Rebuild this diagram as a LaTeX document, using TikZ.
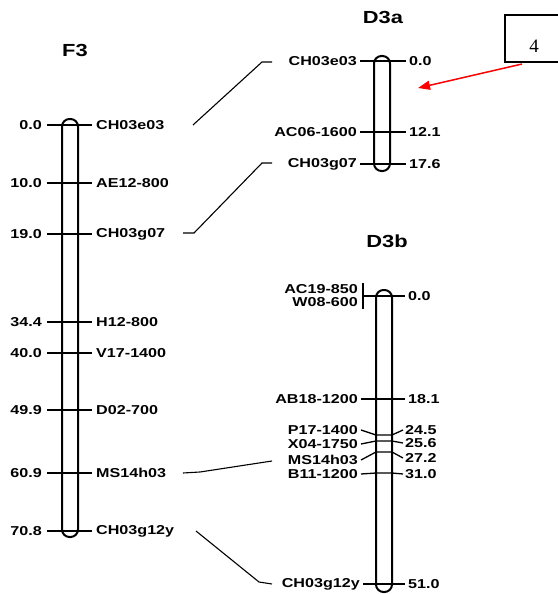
\documentclass[tikz,border=0pt]{standalone}
\usepackage{fontspec}
\newfontfamily\mapfont{Liberation Sans}[FakeStretch=1.25]
\newfontfamily\boxfont{Liberation Serif}
\usetikzlibrary{arrows.meta}
\begin{document}
\begin{tikzpicture}[x=1pt,y=-1pt,
  lbl/.style={font=\mapfont\bfseries\fontsize{12.9}{14}\selectfont, inner sep=0pt},
  ttl/.style={font=\mapfont\bfseries\fontsize{17.5}{19}\selectfont, inner sep=0pt},
  chrom/.style={draw=black, line width=2pt, rounded corners=7.5pt, fill=white},
  tickln/.style={draw=black, line width=1.3pt},
  link/.style={draw=black, line width=1.1pt},
]
\useasboundingbox (0,0) rectangle (557,594);
\fill[white] (0,0) rectangle (557,594);

% ---------- titles
\node[ttl] (tF3) at (75,50) {F3};
\node[ttl] (tD3a) at (383,17) {D3a};
\node[ttl] (tD3b) at (387,241) {D3b};

% ---------- chromosome bars
\draw[chrom] (62,119) rectangle (78,537);
\node[inner sep=0pt] (barF3) at (70,328) {};
\draw[chrom] (374,56) rectangle (390,171);
\node[inner sep=0pt] (barD3a) at (382,113) {};
\draw[chrom] (376,290) rectangle (392,592);
\node[inner sep=0pt] (barD3b) at (384,441) {};

% ---------- F3 markers
\foreach \y/\p/\m/\n in {125/0.0/CH03e03/a, 183/10.0/AE12-800/b, 234/19.0/CH03g07/c,
  322/34.4/H12-800/d, 353/40.0/V17-1400/e, 410/49.9/D02-700/f, 473/60.9/MS14h03/g,
  531/70.8/CH03g12y/h}{
  \draw[tickln] (47,\y) -- (92,\y);
  \node[lbl, anchor=east] (fp\n) at (42,\y) {\p};
  \node[lbl, anchor=west] (fm\n) at (96,\y) {\m};
}

% ---------- D3a markers
\foreach \y/\p/\m/\n in {61/0.0/CH03e03/a, 132/12.1/AC06-1600/b, 164/17.6/CH03g07/c}{
  \draw[tickln] (360,\y) -- (406,\y);
  \node[lbl, anchor=east] (am\n) at (357,\y) {\m};
  \node[lbl, anchor=west] (ap\n) at (409,\y) {\p};
}

% ---------- D3b markers
% top pair
\node[lbl, anchor=east] (bm1) at (358,289) {AC19-850};
\node[lbl, anchor=east] (bm2) at (358,302) {W08-600};
\draw[tickln] (363,283) -- (363,309);
\draw[tickln] (363,296) -- (405,296);
\node[lbl, anchor=west] (bp1) at (408,296) {0.0};
% AB18-1200
\draw[tickln] (361,399) -- (405,399);
\node[lbl, anchor=east] (bm3) at (358,399) {AB18-1200};
\node[lbl, anchor=west] (bp3) at (408,399) {18.1};
% cluster with bent leaders
\foreach \yl/\yb/\yr/\p/\m/\n in {430/435/430/24.5/P17-1400/4, 444/441/443/25.6/X04-1750/5,
  460/452/458/27.2/MS14h03/6, 474/473/474/31.0/B11-1200/7}{
  \draw[tickln] (361,\yl) -- (376,\yb) -- (392,\yb) -- (403,\yr);
  \node[lbl, anchor=east] (bm\n) at (358,\yl) {\m};
  \node[lbl, anchor=west] (bp\n) at (405,\yr) {\p};
}
% CH03g12y
\draw[tickln] (363,584) -- (405,584);
\node[lbl, anchor=east] (bm8) at (360,584) {CH03g12y};
\node[lbl, anchor=west] (bp8) at (408,584) {51.0};

% ---------- connectors between maps
\coordinate (c1a) at (193,125);
\coordinate (c1b) at (262,62);
\coordinate (c1c) at (272,62);
\draw[link] (c1a) -- (c1b) -- (c1c);
\coordinate (c2a) at (183,233);
\coordinate (c2b) at (194,233);
\coordinate (c2c) at (262,163);
\coordinate (c2d) at (272,163);
\draw[link] (c2a) -- (c2b) -- (c2c) -- (c2d);
\coordinate (c3a) at (183,473);
\coordinate (c3b) at (200,472);
\coordinate (c3c) at (272,461);
\draw[link] (c3a) -- (c3b) -- (c3c);
\coordinate (c4a) at (196,531);
\coordinate (c4b) at (259,582);
\coordinate (c4c) at (272,584);
\draw[link] (c4a) -- (c4b) -- (c4c);

% ---------- annotation box and red arrow
\draw[line width=1.5pt] (505,15) rectangle (570,62);
\node[font=\boxfont\fontsize{19}{20}\selectfont, inner sep=0pt] (four) at (534,46) {4};
\coordinate (arrS) at (522,64);
\coordinate (arrT) at (418,88);
\draw[red, line width=1.5pt, -{Triangle[length=12pt,width=9pt]}] (arrS) -- (arrT);
\end{tikzpicture}
\end{document}
